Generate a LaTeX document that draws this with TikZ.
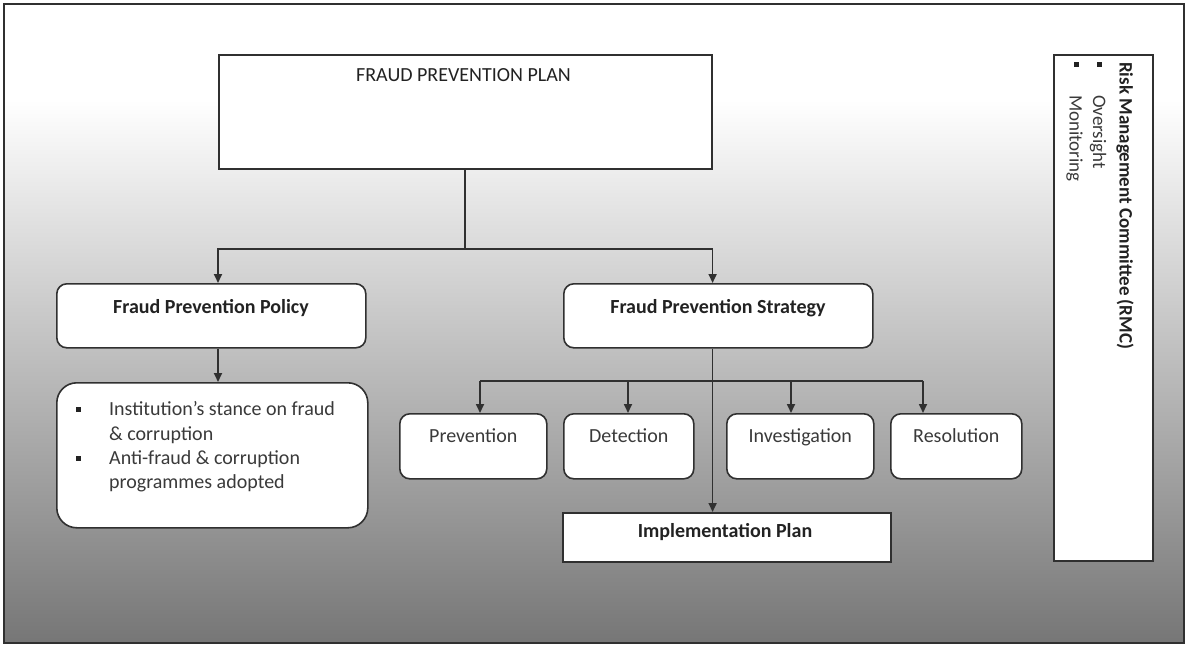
\documentclass[tikz,border=0pt]{standalone}
\usepackage{fontspec}
\setmainfont{Carlito}
\usetikzlibrary{arrows.meta}
\definecolor{ln}{HTML}{303030}
\definecolor{tx}{HTML}{3A3A3A}
\definecolor{bt}{HTML}{222222}
\definecolor{bgbot}{HTML}{767676}
\pgfdeclareverticalshading{bgshade}{100bp}{color(0bp)=(bgbot); color(25bp)=(bgbot); color(67.5bp)=(white); color(100bp)=(white)}
\tikzset{
  box/.style={draw=ln, line width=1.6pt, fill=white, inner sep=0pt, anchor=north west},
  rbox/.style={box, rounded corners=10pt},
  lbl/.style={anchor=base, font=\fontsize{20}{24}\selectfont, text=tx, inner sep=0pt},
  blbl/.style={anchor=base, font=\fontsize{20}{24}\selectfont\bfseries, text=bt, inner sep=0pt},
  llbl/.style={anchor=base west, font=\fontsize{20}{24}\selectfont, text=tx, inner sep=0pt},
  rlbl/.style={rotate=-90, anchor=base west, font=\fontsize{19}{23}\selectfont, text=tx, inner sep=0pt},
  bul/.style={fill=bt, minimum size=5pt, inner sep=0pt},
  conn/.style={draw=ln, line width=1.7pt},
  arr/.style={conn, -{Triangle[length=9pt,width=8pt]}}
}
\begin{document}
\begin{tikzpicture}[x=1pt,y=-1pt]
\useasboundingbox (0,0) rectangle (1187,646);
\shadedraw[shading=bgshade, draw=ln, line width=1.5pt] (4,4) rectangle (1184,643);

% top plan
\node[box, minimum width=493pt, minimum height=114pt] (plan) at (218,54) {};
\node[lbl, text=bt] (plant) at (463.5,81) {FRAUD PREVENTION PLAN};

% policy and strategy
\node[rbox, minimum width=309pt, minimum height=64pt] (policy) at (56,283) {};
\node[blbl] (policyt) at (211,313) {Fraud Prevention Policy};
\node[rbox, minimum width=309pt, minimum height=64pt] (strategy) at (563,283) {};
\node[blbl] (strategyt) at (718,313) {Fraud Prevention Strategy};

% stance box
\node[box, rounded corners=20pt, minimum width=311pt, minimum height=145pt] (stance) at (56,382) {};
\node[bul] (b1) at (78,409) {};
\node[llbl] (s1) at (109,415) {Institution’s stance on fraud};
\node[llbl] (s2) at (109,440) {\& corruption};
\node[bul] (b2) at (78,458) {};
\node[llbl] (s3) at (109,464) {Anti-fraud \& corruption};
\node[llbl] (s4) at (109,488) {programmes adopted};

% four steps
\node[rbox, minimum width=147pt, minimum height=65pt] (prev) at (399,413) {};
\node[lbl] (prevt) at (prev.center |- 0,442) {Prevention};
\node[rbox, minimum width=130pt, minimum height=65pt] (det) at (563,413) {};
\node[lbl] (dett) at (det.center |- 0,442) {Detection};
\node[rbox, minimum width=147pt, minimum height=65pt] (inv) at (726,413) {};
\node[lbl] (invt) at (inv.center |- 0,442) {Investigation};
\node[rbox, minimum width=131pt, minimum height=65pt] (res) at (890,413) {};
\node[lbl] (rest) at (res.center |- 0,442) {Resolution};

% implementation plan
\node[box, minimum width=328pt, minimum height=49pt] (impl) at (562,512) {};
\node[blbl] (implt) at (725,537) {Implementation Plan};

% RMC
\node[box, minimum width=99pt, minimum height=506pt] (rmc) at (1053,54) {};
\node[rlbl, font=\fontsize{19}{23}\selectfont\bfseries, text=bt] (rmct) at (1119.5,62) {Risk Management Committee (RMC)};
\node[bul] (rb1) at (1099.5,64) {};
\node[rlbl] (rmc1) at (1093,95) {Oversight};
\node[bul] (rb2) at (1076,64) {};
\node[rlbl] (rmc2) at (1069.5,95) {Monitoring};

% connectors
\coordinate (split) at (plan.south |- 0,249);
\draw[conn] (plan.south) -- (split);
\draw[arr] (split) -| (plan.south west |- policy.north);
\draw[arr] (split) -| (plan.south east |- strategy.north);
\draw[arr] (plan.south west |- policy.south) -- (plan.south west |- stance.north);
\draw[arr] (plan.south east |- strategy.south) -- (plan.south east |- impl.north);
\coordinate (ap) at (480,381);
\coordinate (ad) at (628,381);
\coordinate (ai) at (791,381);
\coordinate (ar) at (923,381);
\draw[conn] (ap) -- (ar);
\draw[arr] (ap) -- (ap |- prev.north);
\draw[arr] (ad) -- (ad |- det.north);
\draw[arr] (ai) -- (ai |- inv.north);
\draw[arr] (ar) -- (ar |- res.north);
\end{tikzpicture}
\end{document}
